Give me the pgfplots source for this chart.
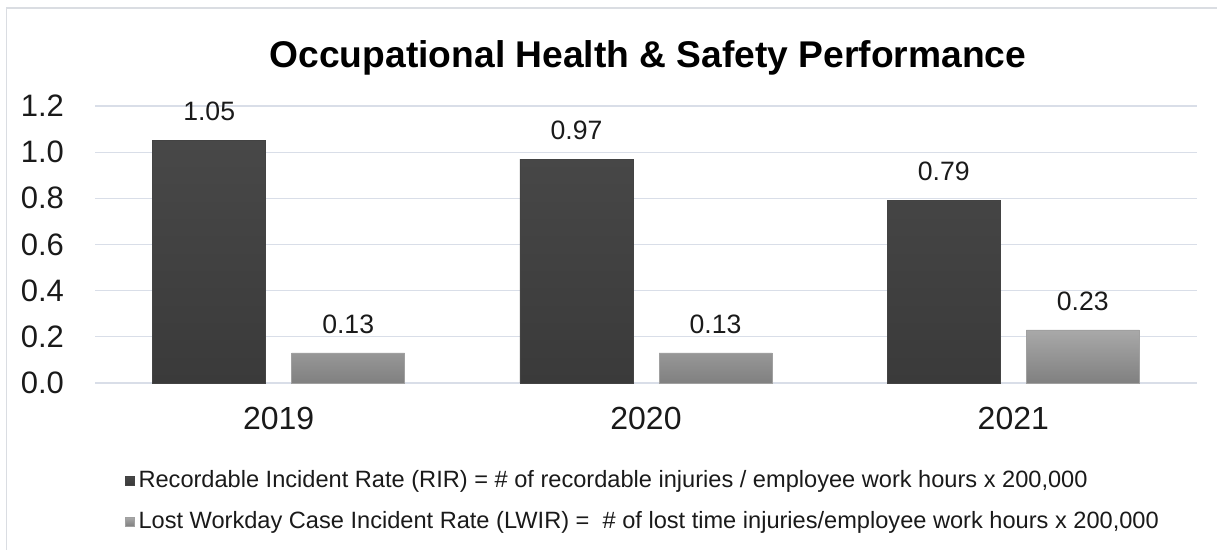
\documentclass[border=0pt]{standalone}
\usepackage{pgfplots}
\pgfplotsset{compat=1.18}
\usepackage{fontspec}
\setmainfont{Liberation Sans}
\definecolor{gridc}{HTML}{D9DEE8}
\definecolor{framec}{HTML}{DADDE2}
\definecolor{darkbar}{HTML}{434343}
\definecolor{darktop}{HTML}{484848}
\definecolor{darkbot}{HTML}{3A3A3A}
\definecolor{lightbar}{HTML}{A0A0A0}
\definecolor{lighttop}{HTML}{A9A9A9}
\definecolor{lightbot}{HTML}{808080}
\definecolor{txt}{HTML}{1A1A1A}
\begin{document}
\begin{tikzpicture}
\path[use as bounding box] (0,0) rectangle (608.5pt,275pt);
\draw[framec, line width=0.75pt] (3.25pt,0) -- (3.25pt,271pt) -- (608.5pt,271pt);
\node[font=\bfseries\fontsize{18.6}{22}\selectfont, text=black] at (324pt,246pt) {Occupational Health \& Safety Performance};
\begin{axis}[
  at={(47.5pt,83.5pt)}, anchor=south west,
  scale only axis, width=551pt, height=138.5pt,
  xmin=-0.5, xmax=2.5, ymin=0, ymax=1.2,
  xtick={0,1,2}, xticklabels={2019,2020,2021},
  ytick={0,0.2,0.4,0.6,0.8,1.0,1.2},
  ymajorgrids, major grid style={gridc, line width=0.6pt},
  axis line style={draw=none},
  major tick length=0pt,
  ybar=13pt, bar width=56.5pt,
  /pgf/number format/assume math mode=true,
  yticklabel={\pgfmathprintnumber[fixed,fixed zerofill,precision=1]{\tick}},
  yticklabel style={font=\fontsize{15.5}{18}\selectfont, text=txt, xshift=-12pt},
  xticklabel style={font=\fontsize{16}{19}\selectfont, text=txt, yshift=-8.5pt},
  nodes near coords,
  nodes near coords style={font=\fontsize{13.3}{16}\selectfont, text=txt, anchor=center, yshift=14.5pt},
  every node near coord/.append style={/pgf/number format/.cd, fixed, fixed zerofill, precision=2, assume math mode=true},
  legend style={at={(axis description cs:0.027,-0.30)}, anchor=north west, draw=none, fill=none,
    font=\fontsize{11.8}{14}\selectfont, text=txt, row sep=6.5pt, inner sep=0pt},
  legend cell align=left,
  clip=false,
]
\addplot[draw=darkbar, line width=0.3pt, top color=darktop, bottom color=darkbot,
  legend image code/.code={\fill[darkbar] (0pt,-2.2pt) rectangle (4.4pt,2.2pt);}]
  coordinates {(0,1.05) (1,0.97) (2,0.79)};
\addlegendentry{Recordable Incident Rate (RIR) = \# of recordable injuries / employee work hours x 200,000}
\addplot[draw=lightbar, line width=0.3pt, top color=lighttop, bottom color=lightbot,
  legend image code/.code={\fill[lightbar] (0pt,-2.2pt) rectangle (4.4pt,2.2pt);}]
  coordinates {(0,0.13) (1,0.13) (2,0.23)};
\addlegendentry{Lost Workday Case Incident Rate (LWIR) = \ \# of lost time injuries/employee work hours x 200,000}
\end{axis}
\end{tikzpicture}
\end{document}
